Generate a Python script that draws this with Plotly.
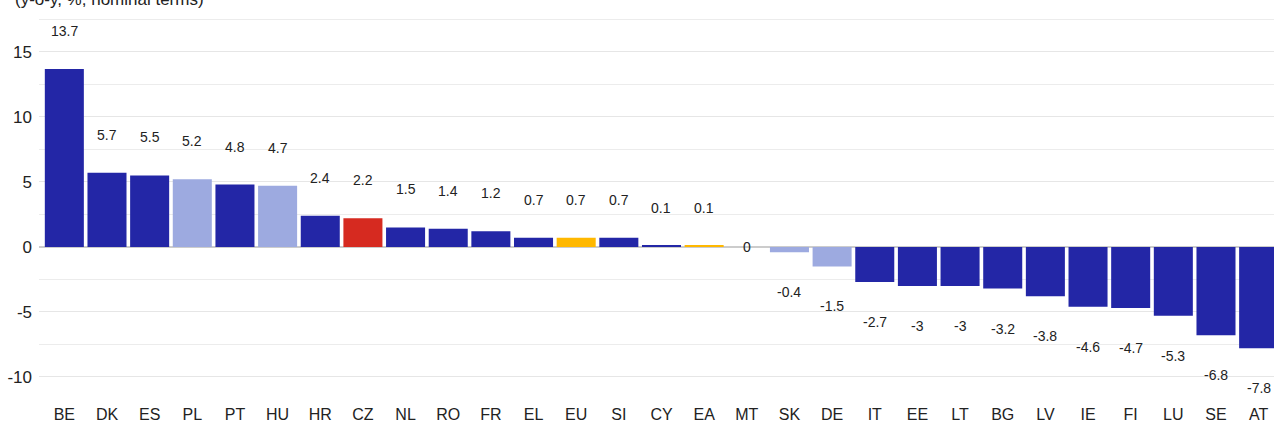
import plotly.graph_objects as go

countries = ["BE", "DK", "ES", "PL", "PT", "HU", "HR", "CZ", "NL", "RO", "FR", "EL", "EU", "SI",
             "CY", "EA", "MT", "SK", "DE", "IT", "EE", "LT", "BG", "LV", "IE", "FI", "LU", "SE", "AT"]
values = [13.7, 5.7, 5.5, 5.2, 4.8, 4.7, 2.4, 2.2, 1.5, 1.4, 1.2, 0.7, 0.7, 0.7,
          0.1, 0.1, 0, -0.4, -1.5, -2.7, -3, -3, -3.2, -3.8, -4.6, -4.7, -5.3, -6.8, -7.8]
# group of each bar: main / light / cz / agg
groups = ["main", "main", "main", "light", "main", "light", "main", "cz", "main", "main", "main", "main", "agg", "main",
          "main", "agg", "main", "light", "light", "main", "main", "main", "main", "main", "main", "main", "main", "main", "main"]
y_ticks = [-10, -5, 0, 5, 10, 15]
y_ticktext = ["-10", "-5", "0", "5", "10", "15"]

palette = {"main": "#2326a6", "light": "#9daae0", "cz": "#d62a20", "agg": "#ffb800"}

fig = go.Figure(go.Bar(
    x=countries,
    y=values,
    marker_color=[palette[g] for g in groups],
    marker_line_width=0,
    hoverinfo="x+y",
))

# value labels sitting a fixed distance above / below each bar
for c, v in zip(countries, values):
    shift = 38 if v > 0 else (-40 if v < 0 else 0)
    fig.add_annotation(x=c, y=v, text=f"{v:g}", showarrow=False, yshift=shift,
                       font=dict(size=14, color="#222"))

# subtitle, mostly cut off by the top of the page as in the original
fig.add_annotation(text="(y-o-y, %, nominal terms)", xref="paper", yref="paper", x=-0.021, y=1,
                   xanchor="left", yanchor="bottom", yshift=2, showarrow=False,
                   font=dict(size=17, color="#222"))

fig.update_layout(
    width=1274, height=428,
    margin=dict(l=39, r=0, t=13, b=29, autoexpand=False),
    plot_bgcolor="white", paper_bgcolor="white",
    bargap=0.085,
    showlegend=False,
    font=dict(family="Liberation Sans, Arial, sans-serif", color="#222"),
)
fig.update_xaxes(range=[-0.594, 28.36], showgrid=False, ticks="", tickfont=dict(size=16),
                 showline=False, automargin=False, ticklabelstandoff=4)
fig.update_yaxes(range=[-11.7, 18], tickvals=y_ticks, ticktext=y_ticktext,
                 showgrid=True, gridcolor="#e6e6e6",
                 minor=dict(dtick=2.5, showgrid=True, gridcolor="#ececec"),
                 zeroline=True, zerolinecolor="#cccccc", zerolinewidth=2,
                 tickfont=dict(size=17), ticks="", ticklabelstandoff=6, automargin=False)

# drop the default body margin so the figure fills the window exactly
fig.write_html("out.html", config={"displayModeBar": False},
               post_script="document.body.style.margin='0';document.body.style.overflow='hidden';")
